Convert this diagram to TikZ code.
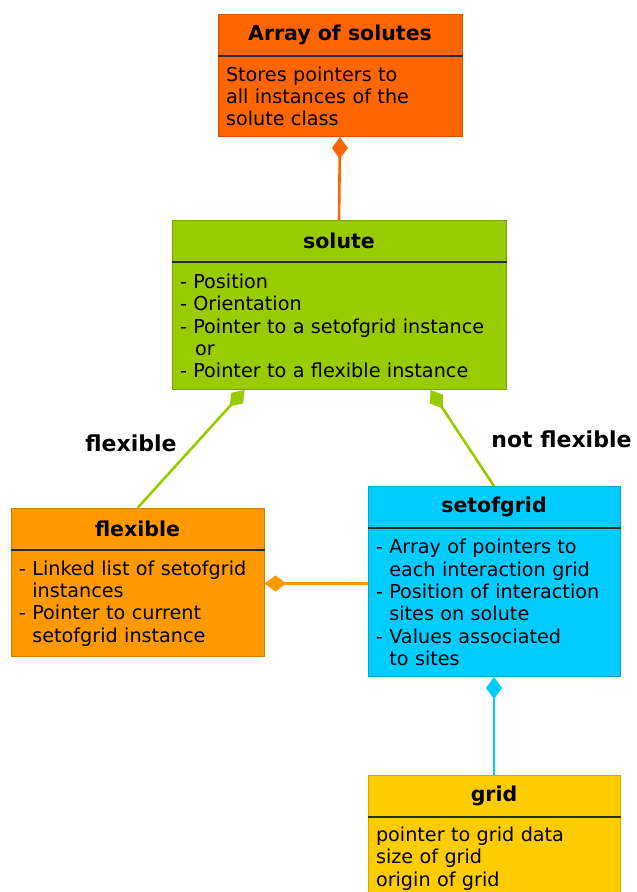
\documentclass[tikz,border=0pt]{standalone}
\usepackage{fontspec}
\setmainfont{DejaVu Sans}
\usetikzlibrary{positioning,arrows.meta}

\definecolor{arraycol}{HTML}{FF6600}
\definecolor{solutecol}{HTML}{99CC00}
\definecolor{flexcol}{HTML}{FF9900}
\definecolor{setcol}{HTML}{00CCFF}
\definecolor{gridcol}{HTML}{FFCC00}
\definecolor{sepcol}{HTML}{2B2B2B}

\tikzset{
  classtitle/.style={draw=#1!82!black, fill=#1, line width=1pt, anchor=north,
    minimum height=41pt, inner sep=0pt, font=\fontsize{20.5}{24}\selectfont\bfseries},
  classbody/.style={draw=#1!82!black, fill=#1, line width=1pt, align=left,
    inner xsep=8pt, inner ysep=6pt, font=\fontsize{19.2}{22.3}\selectfont},
  sepline/.style={draw=sepcol, line width=1.6pt},
  assoc/.style={draw=#1, line width=2.6pt, {Diamond[length=22pt,width=16pt]}-},
  edgelabel/.style={font=\fontsize{22}{25}\selectfont\bfseries}
}

\begin{document}
\begin{tikzpicture}[x=1pt,y=-1pt]

		% page frame
		\clip (0,0) rectangle (637,892);

		% Array of solutes
		\node[classtitle=arraycol, minimum width=244pt] (arrT) at (340,14) {Array of solutes};
		\node[classbody=arraycol, text width=228pt, minimum height=80pt, below=0pt of arrT] (arr)
			{Stores pointers to\\all instances of the\\solute class};
		\draw[sepline] (arrT.south west) -- (arrT.south east);

		% solute
		\node[classtitle=solutecol, minimum width=334pt] (solT) at (339,220) {solute};
		\node[classbody=solutecol, text width=318pt, minimum height=127pt, below=0pt of solT] (sol)
			{- Position\\- Orientation\\- Pointer to a setofgrid instance\\\hspace*{15pt}or\\- Pointer to a flexible instance};
		\draw[sepline] (solT.south west) -- (solT.south east);

		% flexible
		\node[classtitle=flexcol, minimum width=253pt] (flexT) at (137.5,508) {flexible};
		\node[classbody=flexcol, text width=237pt, minimum height=106pt, below=0pt of flexT] (flex)
			{- Linked list of setofgrid\\\phantom{- }instances\\- Pointer to current\\\phantom{- }setofgrid instance};
		\draw[sepline] (flexT.south west) -- (flexT.south east);

		% setofgrid
		\node[classtitle=setcol, minimum width=252pt] (setT) at (494,486) {setofgrid};
		\node[classbody=setcol, text width=236pt, minimum height=148pt, below=0pt of setT] (set)
			{- Array of pointers to\\\phantom{- }each interaction grid\\- Position of interaction\\\phantom{- }sites on solute\\- Values associated\\\phantom{- }to sites};
		\draw[sepline] (setT.south west) -- (setT.south east);

		% grid
		\node[classtitle=gridcol, minimum width=252pt] (gridT) at (494,775) {grid};
		\node[classbody=gridcol, text width=236pt, minimum height=82pt, below=0pt of gridT] (grid)
			{pointer to grid data\\size of grid\\origin of grid};
		\draw[sepline] (gridT.south west) -- (gridT.south east);

		% Aggregations
		\draw[assoc=arraycol] (arr.south) -- (solT.north);
		\draw[assoc=solutecol] ([xshift=73pt]sol.south west) -- (flexT.north);
		\draw[assoc=solutecol] ([xshift=-76pt]sol.south east) -- (setT.north);
		\draw[assoc=flexcol] ([yshift=20pt]flex.east) -- ([yshift=20pt]flex.east -| set.west);
		\draw[assoc=setcol] (set.south) -- (gridT.north);

		% Labels
		\node[edgelabel] (lflex) at (131,443) {flexible};
		\node[edgelabel, anchor=east] (lnotflex) at (635,439) {not flexible};

	\end{tikzpicture}
\end{document}
